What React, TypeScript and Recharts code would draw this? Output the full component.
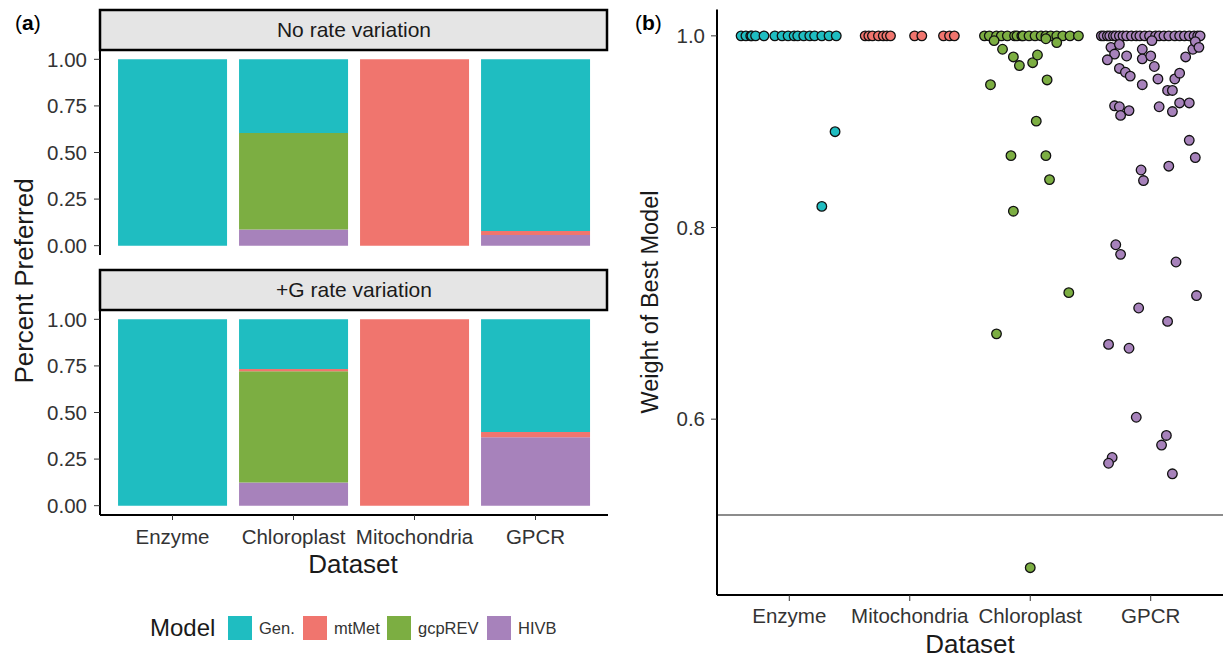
import React from 'react';
import { BarChart, Bar, ScatterChart, Scatter, XAxis, YAxis, ReferenceLine } from 'recharts';

// panel (a): share of datasets preferring each model
const DATASETS_A = ['Enzyme', 'Chloroplast', 'Mitochondria', 'GPCR'];
const MODEL_KEYS = ['gen', 'mtMet', 'gcpREV', 'hivb'];
const MODEL_LABELS = ['Gen.', 'mtMet', 'gcpREV', 'HIVB'];
const MODEL_COLORS = ['#1fbdc1', '#f0756e', '#7cae42', '#a782bb'];

// No rate variation
const NORATE_GEN = [1, 0.395, 0, 0.921];
const NORATE_MTMET = [0, 0, 1, 0.022];
const NORATE_GCPREV = [0, 0.518, 0, 0];
const NORATE_HIVB = [0, 0.087, 0, 0.057];

// +G rate variation
const GAMMA_GEN = [1, 0.267, 0, 0.605];
const GAMMA_MTMET = [0, 0.011, 1, 0.028];
const GAMMA_GCPREV = [0, 0.597, 0, 0];
const GAMMA_HIVB = [0, 0.125, 0, 0.367];

const Y_TICKS_A = [0, 0.25, 0.5, 0.75, 1];

// panel (b): weight of best model, [jitter offset, weight]
const DATASETS_B = ['Enzyme', 'Mitochondria', 'Chloroplast', 'GPCR'];
const Y_TICKS_B = [0.6, 0.8, 1.0];

const ENZYME_PTS = [
  [-0.40, 1], [-0.36, 1], [-0.32, 1], [-0.31, 1], [-0.28, 1], [-0.21, 1], [-0.12, 1], [-0.06, 1],
  [-0.01, 1], [0.04, 1], [0.07, 1], [0.12, 1], [0.17, 1], [0.21, 1], [0.27, 1], [0.33, 1], [0.39, 1],
  [0.38, 0.900], [0.27, 0.822],
];
const MITO_PTS = [
  [-0.37, 1], [-0.34, 1], [-0.31, 1], [-0.26, 1], [-0.22, 1], [-0.19, 1], [-0.16, 1],
  [0.04, 1], [0.10, 1], [0.28, 1], [0.33, 1], [0.37, 1],
];
const CHLORO_PTS = [
  [-0.38, 1], [-0.34, 1], [-0.28, 1], [-0.24, 1], [-0.19, 1], [-0.13, 1], [-0.11, 1], [-0.07, 1],
  [-0.06, 1], [-0.01, 1], [0.04, 1], [0.09, 1], [0.13, 1], [0.17, 1], [0.22, 1], [0.27, 1], [0.33, 1], [0.40, 1],
  [-0.30, 0.995], [-0.23, 0.986], [-0.14, 0.978], [-0.09, 0.969], [0.02, 0.972], [0.06, 0.980],
  [0.22, 0.993], [0.13, 0.997], [-0.33, 0.949], [0.14, 0.954], [0.05, 0.911], [-0.16, 0.875],
  [0.13, 0.875], [0.16, 0.850], [-0.14, 0.817], [0.32, 0.732], [-0.28, 0.689], [0.00, 0.445],
];
const GPCR_PTS = [
  [-0.41, 1], [-0.39, 1], [-0.36, 1], [-0.34, 1], [-0.31, 1], [-0.29, 1], [-0.26, 1], [-0.23, 1],
  [-0.20, 1], [-0.16, 1], [-0.12, 1], [-0.09, 1], [-0.05, 1], [-0.01, 1], [0.04, 1], [0.07, 1],
  [0.11, 1], [0.15, 1], [0.20, 1], [0.24, 1], [0.28, 1], [0.32, 1], [0.36, 1], [0.39, 1], [0.41, 1],
  [-0.33, 0.988], [-0.26, 0.991], [-0.30, 0.981], [-0.36, 0.975], [-0.20, 0.979], [-0.07, 0.986],
  [-0.07, 0.976], [0.00, 0.979], [0.01, 0.995], [-0.26, 0.966], [-0.21, 0.962], [-0.17, 0.958],
  [-0.07, 0.949], [0.03, 0.968], [0.06, 0.955], [0.14, 0.943], [0.18, 0.943], [0.20, 0.955],
  [0.24, 0.961], [0.29, 0.978], [0.35, 0.986], [0.37, 0.994], [0.40, 0.988],
  [-0.30, 0.927], [-0.26, 0.926], [-0.25, 0.917], [-0.18, 0.922], [0.07, 0.926], [0.18, 0.921],
  [0.24, 0.930], [0.32, 0.930], [0.32, 0.891], [0.37, 0.873], [-0.08, 0.860], [-0.06, 0.849],
  [0.15, 0.864], [-0.29, 0.782], [-0.25, 0.772], [0.21, 0.764], [0.38, 0.729], [-0.10, 0.716],
  [0.14, 0.702], [-0.35, 0.678], [-0.18, 0.674], [-0.12, 0.602], [0.13, 0.583], [0.09, 0.573],
  [-0.32, 0.560], [-0.35, 0.554], [0.18, 0.543],
];

const SCATTER_SETS = [
  { name: 'Enzyme', pts: ENZYME_PTS, color: '#1fbdc1' },
  { name: 'Mitochondria', pts: MITO_PTS, color: '#f0756e' },
  { name: 'Chloroplast', pts: CHLORO_PTS, color: '#7cae42' },
  { name: 'GPCR', pts: GPCR_PTS, color: '#a782bb' },
];

const FONT = '"Liberation Sans", Arial, Helvetica, sans-serif';
const TICK_TXT = '#333333';
const TITLE_TXT = '#1a1a1a';
const TICK_FS = 20.5;

function rows(gen: number[], mt: number[], gcp: number[], hiv: number[]) {
  return DATASETS_A.map((d, i) => ({ dataset: d, gen: gen[i], mtMet: mt[i], gcpREV: gcp[i], hivb: hiv[i] }));
}

const noRateRows = rows(NORATE_GEN, NORATE_MTMET, NORATE_GCPREV, NORATE_HIVB);
const gammaRows = rows(GAMMA_GEN, GAMMA_MTMET, GAMMA_GCPREV, GAMMA_HIVB);

// ggplot stacks the first level on top, so draw bottom-up
const STACK_ORDER = [3, 2, 1, 0];

// each facet panel is 205px tall; 10px of margin above keeps the top tick label inside the svg
function FacetBars({ data, showX }: { data: any[]; showX: boolean }) {
  return (
    <BarChart width={608} height={showX ? 255 : 225} data={data}
      margin={{ top: 10, right: 0, bottom: showX ? 0 : 10, left: 0 }} barCategoryGap="5%">
      <XAxis dataKey="dataset" hide={!showX} height={40} interval={0}
        padding={{ left: 12, right: 12 }}
        axisLine={{ stroke: '#000', strokeWidth: 2 }} tickLine={{ stroke: '#333' }}
        tickSize={5} tickMargin={9} tick={{ fill: TICK_TXT, fontSize: TICK_FS }} />
      <YAxis width={100} domain={[-0.05, 1.05]} ticks={Y_TICKS_A} allowDataOverflow interval={0}
        tickFormatter={(v: number) => v.toFixed(2)}
        axisLine={{ stroke: '#000', strokeWidth: 2 }} tickLine={{ stroke: '#333' }}
        tickSize={6} tickMargin={7} tick={{ fill: TICK_TXT, fontSize: TICK_FS }} />
      {STACK_ORDER.map(i => (
        <Bar key={MODEL_KEYS[i]} dataKey={MODEL_KEYS[i]} stackId="a"
          fill={MODEL_COLORS[i]} isAnimationActive={false} />
      ))}
    </BarChart>
  );
}

const dot = (color: string) => (p: any) => (
  <circle cx={p.cx} cy={p.cy} r={4.8} fill={color} stroke="#111" strokeWidth={1.3} />
);

export default function App() {
  return (
    <div style={{ position: 'absolute', left: 0, top: 0, width: 1223, height: 658, background: '#fff', fontFamily: FONT, overflow: 'hidden' }}>
      <div style={{ position: 'absolute', left: 0, top: 40 }}>
        <FacetBars data={noRateRows} showX={false} />
      </div>
      <div style={{ position: 'absolute', left: 0, top: 300 }}>
        <FacetBars data={gammaRows} showX={true} />
      </div>

      <div style={{ position: 'absolute', left: 620, top: 0 }}>
        <ScatterChart width={603} height={658} margin={{ top: 9.5, right: 0, bottom: 0, left: 0 }}>
          <XAxis type="number" dataKey="x" domain={[0.4, 4.6]} ticks={[1, 2, 3, 4]} interval={0}
            allowDataOverflow height={63}
            tickFormatter={(v: number) => DATASETS_B[v - 1] ?? ''}
            axisLine={{ stroke: '#000', strokeWidth: 2 }} tickLine={{ stroke: '#333' }}
            tickSize={6} tickMargin={7} tick={{ fill: TICK_TXT, fontSize: TICK_FS }} />
          <YAxis type="number" dataKey="y" width={97} domain={[0.4165, 1.0275]} ticks={Y_TICKS_B}
            allowDataOverflow interval={0} tickFormatter={(v: number) => v.toFixed(1)}
            axisLine={{ stroke: '#000', strokeWidth: 2 }} tickLine={{ stroke: '#333' }}
            tickSize={6} tickMargin={6} tick={{ fill: TICK_TXT, fontSize: TICK_FS }} />
          <ReferenceLine y={0.5} stroke="#8c8c8c" strokeWidth={2} />
          {SCATTER_SETS.map((s, k) => (
            <Scatter key={s.name} name={s.name} isAnimationActive={false}
              data={s.pts.map(([dx, w]) => ({ x: k + 1 + dx, y: w }))}
              shape={dot(s.color)} />
          ))}
        </ScatterChart>
      </div>

      <svg width={1223} height={658} style={{ position: 'absolute', left: 0, top: 0, pointerEvents: 'none' }}>
        <text x={15} y={30} fontSize={21} fill="#000">(<tspan fontWeight="bold">a</tspan>)</text>
        <text x={635} y={30} fontSize={21} fill="#000">(<tspan fontWeight="bold">b</tspan>)</text>

        {/* facet strips */}
        <rect x={100} y={10} width={507} height={40} fill="#e5e5e5" stroke="#000" strokeWidth={2.5} />
        <text x={354} y={37} fontSize={21} fill={TITLE_TXT} textAnchor="middle">No rate variation</text>
        <rect x={100} y={270} width={507} height={40} fill="#e5e5e5" stroke="#000" strokeWidth={2.5} />
        <text x={354} y={297} fontSize={21} fill={TITLE_TXT} textAnchor="middle">+G rate variation</text>

        {/* axis titles */}
        <text transform="translate(33,281) rotate(-90)" fontSize={26} fill={TITLE_TXT} textAnchor="middle">Percent Preferred</text>
        <text x={353} y={573} fontSize={26} fill={TITLE_TXT} textAnchor="middle">Dataset</text>
        <text transform="translate(658,302) rotate(-90)" fontSize={23.5} fill={TITLE_TXT} textAnchor="middle">Weight of Best Model</text>
        <text x={970} y={653} fontSize={26} fill={TITLE_TXT} textAnchor="middle">Dataset</text>

        {/* legend */}
        <text x={150} y={636} fontSize={24} fill={TITLE_TXT}>Model</text>
        {MODEL_LABELS.map((lbl, i) => {
          const kx = [228, 303, 387, 487][i];
          return (
            <g key={lbl}>
              <rect x={kx} y={616} width={24} height={24} fill={MODEL_COLORS[i]} />
              <text x={kx + 31} y={634} fontSize={16.5} fill={TICK_TXT}>{lbl}</text>
            </g>
          );
        })}
      </svg>
    </div>
  );
}
